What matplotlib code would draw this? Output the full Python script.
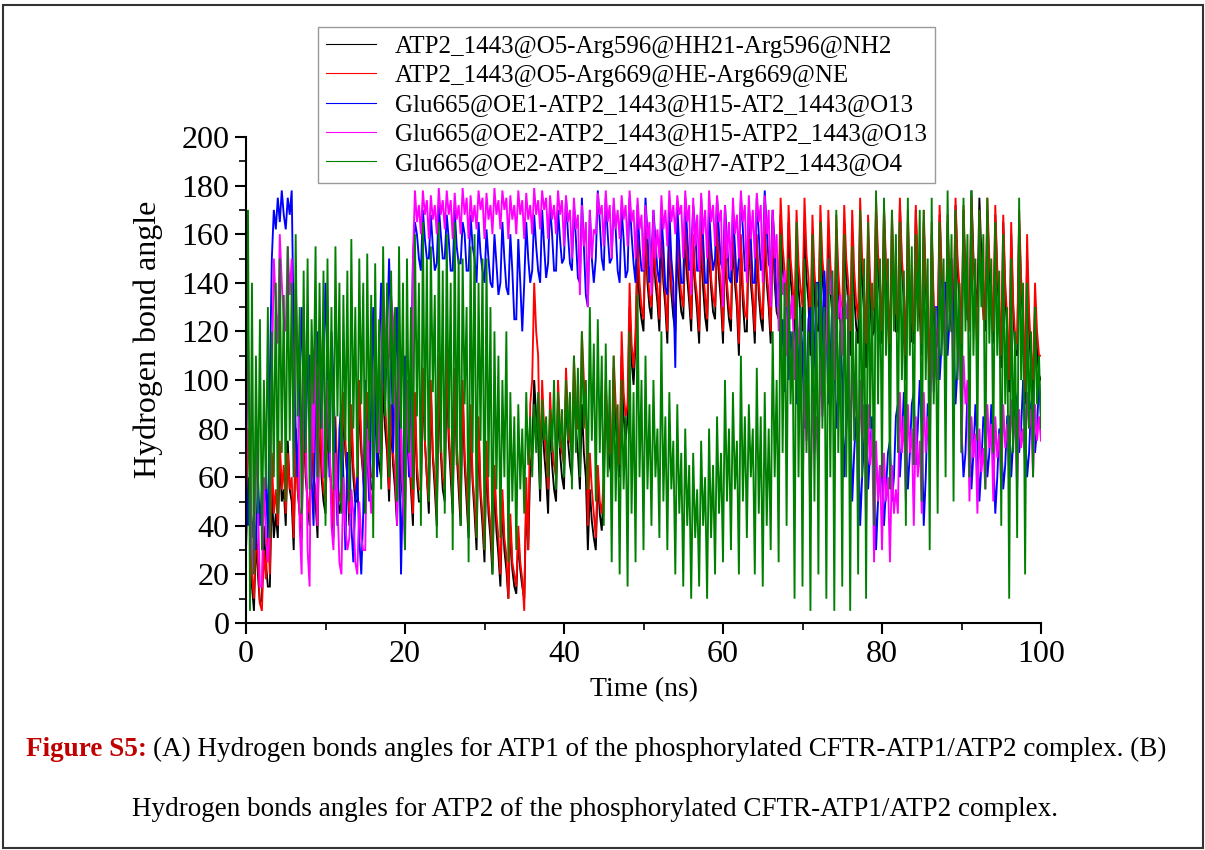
import numpy as np
import matplotlib
matplotlib.use("Agg")
import matplotlib.pyplot as plt
from matplotlib.patches import Rectangle
from matplotlib.ticker import MultipleLocator

plt.rcParams['font.family'] = ['Liberation Serif', 'DejaVu Serif']

labels = [
    "ATP2_1443@O5-Arg596@HH21-Arg596@NH2",
    "ATP2_1443@O5-Arg669@HE-Arg669@NE",
    "Glu665@OE1-ATP2_1443@H15-AT2_1443@O13",
    "Glu665@OE2-ATP2_1443@H15-ATP2_1443@O13",
    "Glu665@OE2-ATP2_1443@H7-ATP2_1443@O4",
]
colors = ["#000000", "#FF0000", "#0000FF", "#FF00FF", "#008000"]

# angle values (deg), one every 0.25 ns from 0 to 100 ns (20 values per row = 5 ns)
black_angle = [
    30, 60, 45, 15, 5, 35, 20, 8, 10, 40, 25, 15, 15, 55, 35, 45, 35, 70, 50, 55,
    40, 75, 55, 50, 30, 80, 55, 45, 35, 85, 60, 50, 40, 80, 60, 50, 35, 90, 60, 50,
    45, 85, 65, 55, 35, 80, 55, 45, 50, 90, 70, 60, 40, 85, 60, 50, 50, 95, 70, 60,
    45, 90, 65, 55, 55, 100, 75, 65, 60, 100, 80, 70, 50, 85, 65, 55, 40, 90, 60, 50,
    45, 95, 70, 55, 40, 90, 60, 50, 50, 100, 75, 60, 45, 95, 68, 55, 40, 100, 70, 55,
    50, 105, 75, 60, 45, 100, 70, 55, 40, 95, 65, 50, 35, 85, 58, 45, 30, 80, 52, 40,
    25, 70, 45, 35, 20, 60, 38, 28, 15, 50, 30, 22, 10, 40, 22, 15, 12, 35, 22, 15,
    10, 50, 30, 65, 70, 100, 85, 75, 50, 90, 70, 60, 45, 85, 65, 55, 50, 90, 70, 60,
    55, 95, 75, 65, 60, 100, 80, 70, 55, 90, 70, 60, 30, 55, 42, 35, 30, 60, 45, 38,
    55, 95, 75, 65, 60, 105, 82, 72, 60, 110, 85, 75, 85, 130, 108, 98, 115, 150, 132, 125,
    120, 160, 140, 130, 125, 155, 140, 132, 120, 160, 140, 130, 115, 158, 136, 126, 120, 155, 138, 128,
    125, 160, 142, 132, 120, 155, 138, 128, 115, 160, 138, 126, 120, 158, 138, 128, 125, 160, 142, 132,
    115, 155, 135, 125, 120, 160, 140, 130, 110, 155, 132, 120, 120, 160, 140, 130, 115, 155, 135, 125,
    120, 160, 140, 130, 115, 165, 140, 128, 125, 168, 146, 136, 120, 165, 142, 132, 115, 160, 138, 126,
    120, 165, 142, 132, 110, 160, 135, 122, 120, 165, 142, 132, 115, 160, 138, 126, 110, 162, 136, 124,
    120, 165, 142, 132, 110, 160, 135, 122, 115, 168, 140, 128, 105, 160, 132, 118, 120, 170, 145, 132,
    115, 170, 142, 128, 105, 165, 135, 120, 120, 172, 146, 132, 100, 165, 132, 116, 115, 170, 142, 128,
    110, 165, 138, 124, 95, 160, 128, 112, 115, 168, 142, 128, 105, 165, 135, 120, 120, 172, 146, 132,
    110, 170, 140, 125, 125, 178, 150, 138, 130, 175, 152, 140, 120, 170, 145, 132, 115, 168, 142, 128,
    105, 165, 135, 120, 95, 160, 128, 112, 110, 165, 138, 124, 90, 150, 120, 105, 95, 130, 112, 102,
    100,
]

red_angle = [
    40, 80, 60, 20, 10, 40, 25, 8, 5, 30, 18, 40, 20, 70, 45, 55, 40, 75, 55, 65,
    45, 70, 55, 60, 35, 80, 55, 45, 40, 90, 65, 50, 45, 85, 60, 55, 40, 95, 65, 55,
    50, 90, 70, 55, 40, 85, 60, 50, 55, 95, 75, 60, 45, 90, 65, 55, 55, 100, 75, 60,
    50, 95, 70, 60, 60, 105, 80, 70, 70, 110, 90, 75, 55, 90, 70, 60, 45, 95, 65, 55,
    50, 100, 70, 60, 45, 95, 65, 55, 55, 105, 75, 60, 50, 100, 70, 60, 45, 110, 75, 60,
    55, 115, 80, 65, 50, 105, 75, 60, 45, 100, 70, 55, 40, 90, 60, 50, 35, 85, 55, 45,
    30, 75, 50, 40, 25, 65, 45, 35, 20, 55, 35, 28, 10, 45, 25, 20, 15, 40, 25, 18,
    5, 60, 30, 90, 100, 140, 120, 110, 60, 100, 80, 70, 55, 95, 75, 65, 60, 100, 80, 70,
    65, 105, 85, 75, 70, 110, 90, 80, 80, 120, 100, 90, 40, 70, 55, 45, 35, 65, 50, 45,
    60, 100, 80, 70, 70, 110, 90, 80, 65, 120, 95, 85, 90, 140, 115, 105, 120, 160, 140, 130,
    125, 165, 145, 135, 130, 160, 145, 138, 125, 165, 145, 135, 120, 162, 140, 132, 125, 160, 145, 135,
    130, 165, 148, 138, 125, 160, 142, 134, 120, 165, 145, 135, 125, 162, 142, 134, 130, 165, 148, 138,
    120, 160, 140, 130, 125, 165, 145, 135, 115, 160, 138, 128, 125, 165, 145, 135, 120, 160, 140, 130,
    125, 165, 145, 135, 120, 170, 145, 132, 135, 175, 155, 145, 130, 172, 150, 140, 125, 170, 148, 138,
    130, 175, 152, 142, 120, 168, 145, 132, 130, 172, 150, 140, 125, 170, 148, 136, 120, 168, 145, 132,
    130, 172, 150, 140, 120, 170, 145, 132, 125, 175, 150, 138, 115, 168, 142, 128, 130, 175, 152, 140,
    120, 172, 148, 135, 115, 170, 142, 128, 125, 175, 150, 138, 110, 170, 140, 125, 120, 172, 146, 132,
    115, 170, 142, 128, 100, 165, 132, 118, 120, 172, 146, 132, 110, 168, 140, 125, 125, 175, 150, 138,
    115, 172, 145, 130, 120, 175, 148, 134, 110, 170, 140, 125, 125, 175, 150, 138, 120, 172, 146, 132,
    110, 168, 140, 125, 100, 165, 132, 118, 115, 170, 142, 128, 95, 160, 128, 112, 100, 140, 120, 110,
    110,
]

blue_angle = [
    65, 40, 55, 35, 45, 30, 60, 40, 55, 45, 60, 35, 100, 150, 170, 162, 175, 165, 178, 168,
    162, 175, 168, 178, 120, 80, 60, 100, 130, 90, 70, 110, 110, 60, 40, 90, 120, 95, 80, 110,
    140, 100, 60, 120, 100, 70, 40, 80, 90, 60, 30, 70, 70, 40, 25, 50, 60, 35, 20, 45,
    100, 70, 50, 90, 130, 90, 60, 110, 140, 110, 90, 120, 150, 120, 70, 100, 130, 80, 20, 60,
    110, 80, 60, 100, 150, 165, 160, 150, 145, 170, 158, 150, 150, 168, 155, 145, 148, 172, 160, 150,
    150, 168, 158, 145, 145, 170, 155, 148, 148, 165, 160, 145, 145, 168, 155, 150, 140, 165, 152, 145,
    140, 162, 150, 140, 138, 160, 148, 135, 140, 165, 150, 138, 135, 160, 145, 125, 125, 158, 140, 120,
    140, 165, 150, 140, 145, 168, 155, 145, 140, 170, 155, 142, 148, 172, 160, 145, 145, 170, 158, 148,
    150, 175, 160, 148, 145, 172, 158, 142, 140, 175, 155, 135, 130, 170, 150, 140, 150, 178, 165, 150,
    145, 175, 160, 148, 150, 172, 162, 145, 140, 170, 158, 142, 145, 175, 160, 148, 140, 172, 155, 145,
    145, 175, 160, 140, 150, 170, 158, 145, 140, 168, 155, 138, 135, 170, 150, 140, 105, 172, 155, 140,
    140, 175, 160, 145, 150, 172, 162, 145, 145, 175, 158, 140, 140, 170, 155, 145, 150, 175, 160, 148,
    145, 172, 158, 142, 140, 170, 155, 140, 150, 175, 162, 145, 145, 172, 158, 140, 140, 175, 160, 145,
    150, 178, 162, 148, 145, 170, 155, 130, 140, 110, 125, 95, 130, 100, 120, 110, 120, 90, 105, 130,
    110, 80, 95, 125, 130, 95, 110, 140, 140, 100, 120, 145, 125, 90, 105, 135, 110, 80, 95, 120,
    100, 60, 80, 95, 90, 50, 70, 85, 80, 40, 60, 75, 90, 55, 70, 85, 70, 30, 50, 65,
    60, 40, 55, 70, 75, 50, 60, 85, 90, 60, 75, 95, 80, 55, 70, 90, 95, 65, 80, 100,
    80, 40, 60, 90, 90, 110, 100, 130, 130, 100, 115, 140, 140, 110, 125, 150, 120, 90, 105, 130,
    80, 60, 70, 95, 85, 55, 70, 90, 75, 50, 65, 85, 80, 60, 70, 90, 70, 45, 60, 80,
    75, 55, 65, 85, 85, 60, 75, 95, 90, 70, 80, 100, 80, 60, 70, 90, 95, 70, 80, 100,
    85,
]

magenta_angle = [
    50, 120, 80, 30, 20, 80, 50, 15, 15, 60, 35, 25, 40, 100, 150, 130, 115, 160, 140, 125,
    120, 155, 135, 150, 60, 140, 110, 40, 20, 130, 90, 30, 15, 110, 70, 125, 40, 125, 100, 60,
    60, 100, 80, 40, 30, 70, 50, 25, 20, 60, 40, 30, 35, 55, 45, 25, 20, 50, 35, 30,
    30, 80, 60, 45, 60, 120, 90, 70, 100, 140, 120, 105, 110, 135, 125, 90, 40, 120, 80, 50,
    30, 100, 70, 60, 150, 178, 165, 172, 160, 178, 168, 174, 158, 176, 166, 172, 160, 179, 168, 174,
    162, 178, 168, 174, 158, 177, 166, 172, 160, 179, 168, 175, 158, 176, 165, 172, 162, 178, 170, 175,
    158, 177, 166, 172, 160, 179, 168, 174, 162, 178, 170, 175, 158, 176, 166, 172, 160, 178, 168, 174,
    158, 177, 166, 172, 160, 179, 168, 174, 162, 178, 170, 175, 158, 176, 166, 172, 160, 178, 168, 174,
    155, 176, 165, 170, 150, 175, 162, 168, 135, 172, 155, 165, 130, 170, 150, 162, 160, 177, 168, 172,
    155, 178, 165, 172, 150, 175, 162, 170, 158, 176, 166, 172, 155, 178, 165, 170, 150, 175, 162, 168,
    145, 172, 158, 165, 135, 170, 150, 162, 150, 176, 162, 170, 155, 178, 165, 172, 160, 176, 168, 172,
    150, 178, 165, 172, 135, 175, 155, 168, 145, 177, 160, 170, 150, 178, 165, 172, 155, 176, 165, 170,
    130, 172, 150, 165, 145, 175, 160, 168, 150, 178, 165, 172, 140, 176, 158, 170, 150, 177, 165, 172,
    140, 176, 160, 170, 130, 170, 150, 160, 120, 150, 135, 145, 110, 140, 125, 135, 100, 130, 115, 125,
    50, 100, 75, 90, 40, 95, 70, 85, 60, 110, 85, 100, 120, 150, 135, 145, 100, 145, 125, 135,
    110, 140, 125, 135, 60, 110, 85, 100, 50, 100, 75, 90, 40, 90, 65, 80, 25, 75, 50, 65,
    30, 70, 50, 60, 25, 65, 45, 55, 45, 95, 70, 85, 50, 90, 70, 80, 40, 85, 60, 75,
    45, 95, 70, 85, 70, 120, 95, 110, 100, 150, 125, 140, 110, 145, 128, 138, 95, 140, 118, 130,
    70, 110, 90, 100, 50, 85, 68, 78, 45, 80, 62, 72, 55, 90, 72, 82, 50, 85, 68, 78,
    55, 90, 72, 82, 60, 92, 76, 85, 55, 88, 72, 80, 65, 95, 80, 88, 60, 90, 75, 85,
    75,
]

green_angle = [
    60, 170, 5, 140, 20, 110, 45, 125, 30, 100, 55, 130, 35, 120, 60, 140, 45, 150, 70, 135,
    50, 155, 75, 140, 60, 160, 85, 130, 45, 145, 70, 150, 55, 125, 90, 155, 60, 140, 80, 145,
    40, 150, 70, 130, 55, 155, 85, 140, 45, 135, 75, 145, 50, 158, 80, 130, 60, 150, 90, 140,
    45, 152, 75, 135, 35, 148, 70, 125, 55, 155, 85, 140, 60, 145, 90, 130, 50, 155, 80, 140,
    30, 150, 70, 130, 55, 160, 85, 140, 40, 165, 75, 150, 50, 155, 95, 135, 35, 165, 70, 145,
    45, 160, 80, 140, 30, 165, 65, 150, 40, 150, 90, 130, 25, 155, 70, 160, 35, 140, 75, 150,
    30, 150, 60, 130, 20, 120, 55, 110, 35, 100, 60, 120, 25, 95, 50, 85, 30, 90, 55, 80,
    45, 95, 65, 85, 60, 90, 70, 95, 55, 92, 75, 85, 60, 88, 70, 100, 55, 95, 72, 88,
    60, 100, 75, 95, 55, 110, 70, 105, 60, 120, 80, 100, 55, 130, 75, 115, 50, 125, 70, 110,
    40, 115, 60, 100, 25, 110, 50, 90, 20, 100, 55, 85, 15, 120, 45, 95, 25, 135, 60, 100,
    30, 110, 55, 90, 40, 100, 60, 80, 35, 120, 50, 85, 30, 95, 55, 75, 20, 90, 45, 70,
    15, 80, 40, 65, 10, 70, 35, 55, 15, 75, 40, 60, 10, 80, 35, 65, 20, 85, 45, 70,
    25, 100, 50, 80, 30, 95, 55, 75, 20, 110, 50, 85, 35, 90, 60, 80, 20, 105, 45, 85,
    15, 95, 40, 80, 30, 120, 60, 100, 25, 160, 70, 140, 40, 150, 90, 120, 10, 165, 60, 130,
    15, 150, 70, 120, 5, 160, 50, 140, 20, 165, 80, 130, 10, 150, 60, 145, 5, 170, 70, 125,
    15, 160, 60, 135, 5, 155, 75, 120, 20, 170, 60, 150, 10, 165, 80, 140, 40, 178, 90, 150,
    60, 175, 110, 150, 55, 170, 120, 160, 70, 165, 100, 145, 40, 175, 110, 155, 65, 160, 120, 170,
    50, 170, 100, 150, 30, 175, 90, 130, 45, 165, 110, 150, 60, 178, 120, 160, 50, 170, 100, 140,
    70, 175, 120, 160, 60, 178, 110, 150, 75, 170, 130, 160, 55, 175, 115, 150, 70, 165, 110, 145,
    40, 160, 90, 130, 10, 150, 70, 120, 35, 175, 100, 140, 20, 140, 80, 120, 60, 130, 90, 110,
    80,
]

series = [black_angle, red_angle, blue_angle, magenta_angle, green_angle]

fig = plt.figure(figsize=(12.05, 8.5), dpi=100)
ax = fig.add_axes([246 / 1205, 1 - 623 / 850, 795 / 1205, 486 / 850])

for vals, col, lab in zip(series, colors, labels):
    t = np.linspace(0, 100, len(vals))
    ax.plot(t, vals, color=col, lw=1.35, label=lab, solid_joinstyle='miter')

ax.set_xlim(0, 100)
ax.set_ylim(0, 200)
ax.xaxis.set_major_locator(MultipleLocator(20))
ax.xaxis.set_minor_locator(MultipleLocator(10))
ax.yaxis.set_major_locator(MultipleLocator(20))
ax.yaxis.set_minor_locator(MultipleLocator(10))
for s in ['top', 'right']:
    ax.spines[s].set_visible(False)
for s in ['left', 'bottom']:
    ax.spines[s].set_linewidth(1.5)
ax.tick_params(which='major', direction='out', length=8, width=1.5,
               labelsize=23, pad=4)
ax.tick_params(which='minor', direction='out', length=5, width=1.2)

ax.set_xlabel("Time (ns)", fontsize=20)
ax.set_ylabel("Hydrogen bond angle", fontsize=23)
ax.xaxis.set_label_coords(0.5, -0.138)
ax.yaxis.set_label_coords(-0.123, 0.584)
ax.xaxis.label.set_va('center')
ax.yaxis.label.set_va('center')

leg = fig.legend(loc='upper left', bbox_to_anchor=(318 / 1205, 1 - 27 / 850),
                 fontsize=18, frameon=True, fancybox=False, framealpha=1,
                 edgecolor='#999999', handlelength=2.0, handletextpad=0.75,
                 labelspacing=0.27, borderpad=0.33, borderaxespad=0)
leg.get_frame().set_linewidth(1.0)
for h in leg.get_lines():
    h.set_linewidth(0.8)

# caption
cap_size = 19.5
cap_y1 = 1 - 749 / 850
renderer = fig.canvas.get_renderer()
part1 = fig.text(0, cap_y1, "Figure S5: ", fontsize=cap_size, fontweight='bold',
                 color='#C00000', va='center', ha='left')
part2 = fig.text(0, cap_y1,
                 "(A) Hydrogen bonds angles for ATP1 of the phosphorylated CFTR-ATP1/ATP2 complex. (B)",
                 fontsize=cap_size, va='center', ha='left')
w1 = part1.get_window_extent(renderer).width
w2 = part2.get_window_extent(renderer).width
x_start = 596 - (w1 + w2) / 2
part1.set_x(x_start / 1205)
part2.set_x((x_start + w1) / 1205)
fig.text(595 / 1205, 1 - 810 / 850,
         "Hydrogen bonds angles for ATP2 of the phosphorylated CFTR-ATP1/ATP2 complex.",
         fontsize=cap_size, va='center', ha='center')

fig.patches.append(Rectangle((3 / 1205, 2 / 850), 1200 / 1205, 843 / 850,
                             transform=fig.transFigure, fill=False,
                             edgecolor='#333333', lw=1.5))

fig.savefig("out.png", dpi=100)
